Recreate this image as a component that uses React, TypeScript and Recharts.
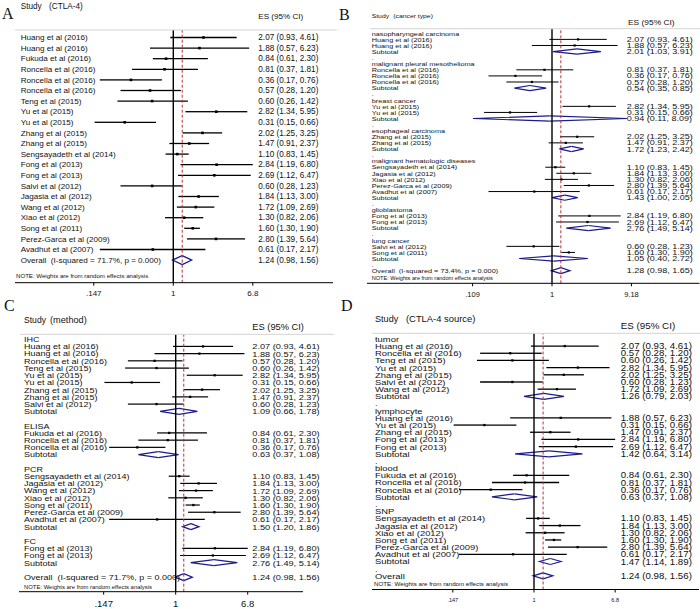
import React from 'react';
import { ComposedChart, Bar, XAxis, YAxis, ReferenceLine } from 'recharts';

const FONT = '"Liberation Sans", Arial, Helvetica, sans-serif';
const SERIF = '"Liberation Serif", "Times New Roman", serif';
const NAVY = '#1b1b8e';
const RED = '#b8303a';
const INK = '#111';

// ---------------- data ----------------
const studyNames = [
  'Huang et al (2016)', 'Huang et al (2016)', 'Fukuda et al (2016)', 'Roncella et al (2016)',
  'Roncella et al (2016)', 'Roncella et al (2016)', 'Teng et al (2015)', 'Yu et al (2015)',
  'Yu et al (2015)', 'Zhang et al (2015)', 'Zhang et al (2015)', 'Sengsayadeth et al (2014)',
  'Fong et al (2013)', 'Fong et al (2013)', 'Salvi et al (2012)', 'Jagasia et al (2012)',
  'Wang et al (2012)', 'Xiao et al (2012)', 'Song et al (2011)', 'Perez-Garca et al (2009)',
  'Avadhut et al (2007)',
];
const studyES = [2.07, 1.88, 0.84, 0.81, 0.36, 0.57, 0.6, 2.82, 0.31, 2.02, 1.47, 1.1, 2.84, 2.69, 0.6, 1.84, 1.72, 1.3, 1.6, 2.8, 0.61];
const studyLower = [0.93, 0.57, 0.61, 0.37, 0.17, 0.28, 0.26, 1.34, 0.15, 1.25, 0.91, 0.83, 1.19, 1.12, 0.28, 1.13, 1.09, 0.82, 1.3, 1.39, 0.17];
const studyUpper = [4.61, 6.23, 2.3, 1.81, 0.76, 1.2, 1.42, 5.95, 0.66, 3.25, 2.37, 1.45, 6.8, 6.47, 1.23, 3.0, 2.69, 2.06, 1.9, 5.64, 2.17];

// Panel A (CTLA-4)
const ctlaOrder = [0, 1, 2, 3, 4, 5, 6, 7, 8, 9, 10, 11, 12, 13, 14, 15, 16, 17, 18, 19, 20];
const ctlaOverall = [1.24, 0.98, 1.56];
const ctlaOverallLabel = 'Overall\u00a0\u00a0(I-squared = 71.7%, p = 0.000)';

// Panel B (cancer type)
const cancerGroups = ['nasopharyngeal carcinoma', 'malignant pleural mesothelioma', 'breast cancer', 'esophageal carcinoma', 'malignant hematologic diseases', 'glioblastoma', 'lung cancer'];
const cancerMembers = [[0, 1], [3, 4, 5], [7, 8], [9, 10], [11, 15, 17, 19, 20], [12, 13], [14, 18]];
const cancerSubES = [2.01, 0.54, 0.94, 1.72, 1.43, 2.76, 1.05];
const cancerSubLo = [1.03, 0.35, 0.11, 1.23, 1.0, 1.49, 0.4];
const cancerSubHi = [3.91, 0.85, 8.09, 2.42, 2.05, 5.14, 2.72];
const cancerOverall = [1.28, 0.98, 1.65];
const cancerOverallLabel = 'Overall\u00a0\u00a0(I-squared = 73.4%, p = 0.000)';

// Panel C (method)
const methodGroups = ['IHC', 'ELISA', 'PCR', 'FC'];
const methodMembers = [[0, 1, 5, 6, 7, 8, 9, 10, 14], [2, 3, 4], [11, 15, 16, 17, 18, 19, 20], [12, 13]];
const methodSubES = [1.09, 0.63, 1.5, 2.76];
const methodSubLo = [0.66, 0.37, 1.2, 1.49];
const methodSubHi = [1.78, 1.08, 1.86, 5.14];
const methodOverall = [1.24, 0.98, 1.56];
const methodOverallLabel = 'Overall\u00a0\u00a0(I-squared = 71.7%, p = 0.000)';

// Panel D (CTLA-4 source)
const sourceGroups = ['tumor', 'lymphocyte', 'blood', 'SNP'];
const sourceMembers = [[0, 5, 6, 7, 9, 14, 16], [1, 8, 10, 12, 13], [2, 3, 4], [11, 15, 17, 18, 19, 20]];
const sourceSubES = [1.26, 1.42, 0.63, 1.47];
const sourceSubLo = [0.79, 0.64, 0.37, 1.14];
const sourceSubHi = [2.03, 3.14, 1.08, 1.89];
const sourceOverall = [1.24, 0.98, 1.56];
const sourceOverallLabel = 'Overall';

// axis ticks
const ticksAC = [0.147, 1, 6.8];
const tickLabelsAC = ['.147', '1', '6.8'];
const ticksB = [0.109, 1, 9.18];
const tickLabelsB = ['.109', '1', '9.18'];

// ---------------- rows ----------------
type Row = { key: string; kind: 'study' | 'group' | 'sub' | 'blank' | 'overall'; label: string; es?: number; lo?: number; hi?: number };

function studyRow(i: number, k: string): Row {
  return { key: k, kind: 'study', label: studyNames[i], es: studyES[i], lo: studyLower[i], hi: studyUpper[i] };
}

function flatRows(order: number[], overall: number[], ovLabel: string): Row[] {
  const rows: Row[] = order.map((i, j) => studyRow(i, 'r' + j));
  rows.push({ key: 'ov', kind: 'overall', label: ovLabel, es: overall[0], lo: overall[1], hi: overall[2] });
  return rows;
}

function groupedRows(names: string[], members: number[][], sEs: number[], sLo: number[], sHi: number[], overall: number[], ovLabel: string): Row[] {
  const rows: Row[] = [];
  let c = 0;
  names.forEach((g, gi) => {
    rows.push({ key: 'k' + c++, kind: 'group', label: g });
    members[gi].forEach((i) => rows.push(studyRow(i, 'k' + c++)));
    rows.push({ key: 'k' + c++, kind: 'sub', label: 'Subtotal', es: sEs[gi], lo: sLo[gi], hi: sHi[gi] });
    rows.push({ key: 'k' + c++, kind: 'blank', label: '' });
  });
  rows.push({ key: 'ov', kind: 'overall', label: ovLabel, es: overall[0], lo: overall[1], hi: overall[2] });
  return rows;
}

const rowsA = flatRows(ctlaOrder, ctlaOverall, ctlaOverallLabel);
const rowsB = groupedRows(cancerGroups, cancerMembers, cancerSubES, cancerSubLo, cancerSubHi, cancerOverall, cancerOverallLabel);
const rowsC = groupedRows(methodGroups, methodMembers, methodSubES, methodSubLo, methodSubHi, methodOverall, methodOverallLabel);
const rowsD = groupedRows(sourceGroups, sourceMembers, sourceSubES, sourceSubLo, sourceSubHi, sourceOverall, sourceOverallLabel);

// ---------------- layout configs ----------------
type Cfg = {
  left: number; top: number; width: number; height: number;
  plotLeft: number; plotRight: number; plotTop: number; plotBottom: number;
  padTop: number; band: number; oneX: number; pxPerDecade: number;
  ticks: number[]; tickLabels: string[]; clipMax: number;
  labelX: number; esX: number; labelFont: number; esFont: number; sy: number; esSy: number;
  tickFont: number; tickMargin: number; ciW: number; dot: number; subH: number; ovH: number;
  blankDot: boolean;
};

const cfgA: Cfg = {
  left: 0, top: 0, width: 350, height: 305,
  plotLeft: 15, plotRight: 333, plotTop: 30, plotBottom: 282.7,
  padTop: 2, band: 10.6, oneX: 173.3, pxPerDecade: 95.5,
  ticks: ticksAC, tickLabels: tickLabelsAC, clipMax: 6.8,
  labelX: 20.7, esX: 258.3, labelFont: 8.1, esFont: 8.2, sy: 1, esSy: 1,
  tickFont: 8, tickMargin: 5, ciW: 1.3, dot: 2.6, subH: 3, ovH: 4.5, blankDot: false,
};
const cfgB: Cfg = {
  left: 350, top: 0, width: 350, height: 305,
  plotLeft: 17, plotRight: 349.5, plotTop: 29, plotBottom: 283.3,
  padTop: 1.3, band: 6.087, oneX: 202, pxPerDecade: 82.5,
  ticks: ticksB, tickLabels: tickLabelsB, clipMax: 1000,
  labelX: 21.7, esX: 276.7, labelFont: 7.3, esFont: 9, sy: 0.85, esSy: 0.78,
  tickFont: 7.5, tickMargin: 5, ciW: 1, dot: 2.2, subH: 2.6, ovH: 3, blankDot: true,
};
const cfgC: Cfg = {
  left: 0, top: 305, width: 350, height: 304,
  plotLeft: 19, plotRight: 303, plotTop: 29.3, plotBottom: 286.7,
  padTop: 1.4, band: 7.21, oneX: 175.7, pxPerDecade: 86.5,
  ticks: ticksAC, tickLabels: tickLabelsAC, clipMax: 6.8,
  labelX: 24, esX: 252.3, labelFont: 9, esFont: 9.2, sy: 0.85, esSy: 0.85,
  tickFont: 9.5, tickMargin: 6, ciW: 1.2, dot: 2.3, subH: 3, ovH: 3.5, blankDot: false,
};
const cfgD: Cfg = {
  left: 350, top: 305, width: 350, height: 304,
  plotLeft: 22, plotRight: 349, plotTop: 28.3, plotBottom: 284.5,
  padTop: 2.1, band: 7.18, oneX: 184, pxPerDecade: 97.5,
  ticks: ticksAC, tickLabels: tickLabelsAC, clipMax: 6.8,
  labelX: 25, esX: 270.7, labelFont: 9.4, esFont: 9.7, sy: 0.85, esSy: 0.85,
  tickFont: 5.5, tickMargin: 6, ciW: 1.3, dot: 2.3, subH: 3, ovH: 3, blankDot: true,
};

const fmtCI = (r: Row) => `${(r.es as number).toFixed(2)} (${(r.lo as number).toFixed(2)}, ${(r.hi as number).toFixed(2)})`;
const hasCI = (r: Row) => r.kind === 'study' || r.kind === 'sub' || r.kind === 'overall';

function RowTick(props: any) {
  const { y, payload, cfg, byKey } = props;
  const row: Row | undefined = byKey.get(payload?.value);
  if (!row) return <g />;
  const label = row.kind === 'blank' ? (cfg.blankDot ? '.' : '') : row.label;
  const lb = y + cfg.labelFont * 0.36 * cfg.sy;
  const eb = y + cfg.esFont * 0.36 * cfg.esSy;
  return (
    <g>
      {label ? (
        <text transform={`translate(${cfg.labelX},${lb}) scale(1,${cfg.sy})`} fontSize={cfg.labelFont} fontFamily={FONT} fill={INK} style={{ whiteSpace: 'pre' }}>
          {label}
        </text>
      ) : null}
      {hasCI(row) ? (
        <text transform={`translate(${cfg.esX},${eb}) scale(1,${cfg.esSy})`} fontSize={cfg.esFont} fontFamily={FONT} fill={INK}>
          {fmtCI(row)}
        </text>
      ) : null}
    </g>
  );
}

function makeLeftShape(cfg: Cfg) {
  return (props: any) => {
    const { x, y, width, height, payload } = props;
    if (!payload || !hasCI(payload) || !isFinite(x) || !isFinite(width)) return <g />;
    const cy = y + height / 2;
    if (payload.kind === 'study') {
      return (
        <g>
          <line x1={x} x2={x + width} y1={cy} y2={cy} stroke="#000" strokeWidth={cfg.ciW} />
          <rect x={x + width - cfg.dot / 2} y={cy - cfg.dot / 2} width={cfg.dot} height={cfg.dot} fill="#000" />
        </g>
      );
    }
    const h = payload.kind === 'overall' ? cfg.ovH : cfg.subH;
    return <path d={`M${x + width},${cy - h} L${x},${cy} L${x + width},${cy + h}`} fill="#fff" stroke={NAVY} strokeWidth={1.2} />;
  };
}

function makeRightShape(cfg: Cfg) {
  return (props: any) => {
    const { x, y, width, height, payload } = props;
    if (!payload || !hasCI(payload) || !isFinite(x) || !isFinite(width)) return <g />;
    const cy = y + height / 2;
    if (payload.kind === 'study') {
      const tip = x + width;
      const arrow = payload.hi > cfg.clipMax;
      return (
        <g>
          <line x1={x} x2={tip} y1={cy} y2={cy} stroke="#000" strokeWidth={cfg.ciW} />
          {arrow ? <path d={`M${tip - 4},${cy - 3} L${tip},${cy} L${tip - 4},${cy + 3}`} fill="none" stroke="#000" strokeWidth={cfg.ciW} /> : null}
        </g>
      );
    }
    const h = payload.kind === 'overall' ? cfg.ovH : cfg.subH;
    return <path d={`M${x},${cy - h} L${x + width},${cy} L${x},${cy + h}`} fill="#fff" stroke={NAVY} strokeWidth={1.2} />;
  };
}

function ForestPanel({ cfg, rows, overallES }: { cfg: Cfg; rows: Row[]; overallES: number }) {
  const n = rows.length;
  const plotH = cfg.plotBottom - cfg.plotTop;
  const padBottom = Math.max(0, plotH - cfg.padTop - n * cfg.band);
  const dmin = Math.pow(10, (cfg.plotLeft - cfg.oneX) / cfg.pxPerDecade);
  const dmax = Math.pow(10, (cfg.plotRight - cfg.oneX) / cfg.pxPerDecade);
  const xAxisH = 20;
  const yAxisW = 1;
  const byKey = new Map(rows.map((r) => [r.key, r]));
  const leftKey = (d: Row) => (hasCI(d) ? [d.lo, d.es] : null);
  const rightKey = (d: Row) => (hasCI(d) ? [d.es, Math.min(d.hi as number, cfg.clipMax)] : null);
  return (
    <div style={{ position: 'absolute', left: cfg.left, top: cfg.top }}>
      <ComposedChart
        layout="vertical"
        width={cfg.width}
        height={cfg.height}
        data={rows}
        margin={{ top: cfg.plotTop, bottom: cfg.height - cfg.plotBottom - xAxisH, left: cfg.plotLeft - yAxisW, right: cfg.width - cfg.plotRight }}
        barCategoryGap={0}
        barGap={0}
      >
        <XAxis
          type="number"
          scale="log"
          domain={[dmin, dmax]}
          allowDataOverflow
          ticks={cfg.ticks}
          interval={0}
          tickFormatter={(v: number) => cfg.tickLabels[cfg.ticks.indexOf(v)] ?? String(v)}
          height={xAxisH}
          tickSize={3}
          tickMargin={cfg.tickMargin}
          axisLine={{ stroke: '#000', strokeWidth: 1 }}
          tickLine={{ stroke: '#000' }}
          tick={{ fontSize: cfg.tickFont, fill: INK, fontFamily: FONT }}
        />
        <YAxis
          yAxisId="rows"
          type="category"
          dataKey="key"
          width={yAxisW}
          axisLine={false}
          tickLine={false}
          tickSize={0}
          tickMargin={0}
          interval={0}
          padding={{ top: cfg.padTop, bottom: padBottom }}
          tick={<RowTick cfg={cfg} byKey={byKey} />}
        />
        <YAxis yAxisId="half" type="category" dataKey="key" hide padding={{ top: cfg.padTop, bottom: padBottom }} />
        <ReferenceLine yAxisId="rows" x={1} stroke="#000" strokeWidth={1.4} />
        <ReferenceLine yAxisId="rows" x={overallES} stroke={RED} strokeWidth={1} strokeDasharray="3 2" />
        <Bar yAxisId="rows" dataKey={leftKey as any} shape={makeLeftShape(cfg)} isAnimationActive={false} />
        <Bar yAxisId="half" dataKey={rightKey as any} shape={makeRightShape(cfg)} isAnimationActive={false} />
      </ComposedChart>
    </div>
  );
}

function Txt({ x, y, size, children, family = FONT, sy = 1 }: any) {
  return (
    <text transform={`translate(${x},${y}) scale(1,${sy})`} fontSize={size} fontFamily={family} fill={INK}>
      {children}
    </text>
  );
}

function Overlay() {
  return (
    <svg width={700} height={609} style={{ position: 'absolute', left: 0, top: 0, pointerEvents: 'none' }}>
      {/* panel letters */}
      <Txt x={2} y={18.5} size={16} family={SERIF}>A</Txt>
      <Txt x={339} y={19.5} size={16} family={SERIF}>B</Txt>
      <Txt x={4} y={311} size={16} family={SERIF}>C</Txt>
      <Txt x={341} y={311} size={16} family={SERIF}>D</Txt>

      {/* Panel A header */}
      <Txt x={20.7} y={8.5} size={8.2}>Study</Txt>
      <Txt x={49} y={8.5} size={8.2}>(CTLA-4)</Txt>
      <Txt x={258.3} y={19.3} size={8.1}>ES (95% CI)</Txt>
      <line x1={15} x2={337} y1={30} y2={30} stroke="#d4d4d4" strokeWidth={1} />
      <Txt x={16} y={278.4} size={6.1} sy={0.9}>NOTE: Weights are from random effects analysis</Txt>

      {/* Panel B header */}
      <Txt x={371.7} y={18} size={6.8} sy={0.9}>Study</Txt>
      <Txt x={393.3} y={18} size={6.8} sy={0.9}>(cancer type)</Txt>
      <Txt x={628} y={25} size={8.4} sy={0.9}>ES (95% CI)</Txt>
      <line x1={370} x2={700} y1={28.7} y2={28.7} stroke="#d4d4d4" strokeWidth={1} />
      <Txt x={371.7} y={280.3} size={5.6} sy={0.9}>NOTE: Weights are from random effects analysis</Txt>

      {/* Panel C header */}
      <Txt x={24} y={323} size={8.6}>Study</Txt>
      <Txt x={50} y={323} size={9.2}>(method)</Txt>
      <Txt x={252.3} y={330} size={9.3}>ES (95% CI)</Txt>
      <line x1={20} x2={334} y1={334.3} y2={334.3} stroke="#d4d4d4" strokeWidth={1} />
      <Txt x={24} y={589.2} size={5.9} sy={0.9}>NOTE: Weights are from random effects analysis</Txt>

      {/* Panel D header */}
      <Txt x={375} y={322} size={9.1}>Study</Txt>
      <Txt x={406} y={322} size={9.4}>(CTLA-4 source)</Txt>
      <Txt x={620.7} y={329} size={9.8}>ES (95% CI)</Txt>
      <line x1={372} x2={700} y1={333.3} y2={333.3} stroke="#d4d4d4" strokeWidth={1} />
      <Txt x={374} y={586} size={6.2} sy={0.9}>NOTE: Weights are from random effects analysis</Txt>
    </svg>
  );
}

export default function App() {
  return (
    <div style={{ position: 'absolute', left: 0, top: 0, width: 700, height: 609, background: '#fff', overflow: 'hidden' }}>
      <ForestPanel cfg={cfgA} rows={rowsA} overallES={ctlaOverall[0]} />
      <ForestPanel cfg={cfgB} rows={rowsB} overallES={cancerOverall[0]} />
      <ForestPanel cfg={cfgC} rows={rowsC} overallES={methodOverall[0]} />
      <ForestPanel cfg={cfgD} rows={rowsD} overallES={sourceOverall[0]} />
      <Overlay />
    </div>
  );
}
